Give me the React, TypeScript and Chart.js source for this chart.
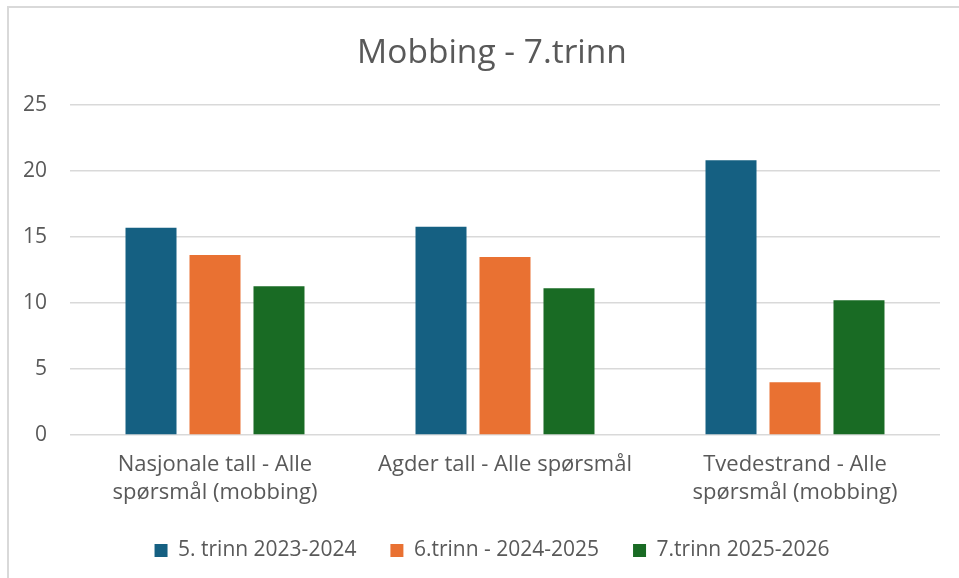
import React, { useEffect, useRef } from "react";
import { Chart, registerables } from "chart.js";

Chart.register(...registerables);

const categories: string[][] = [
  ["Nasjonale tall - Alle", "spørsmål (mobbing)"],
  ["Agder tall - Alle spørsmål"],
  ["Tvedestrand - Alle", "spørsmål (mobbing)"],
];
const seriesNames = ["5. trinn 2023-2024", "6.trinn - 2024-2025", "7.trinn 2025-2026"];
const trinn5 = [15.7, 15.77, 20.82];
const trinn6 = [13.63, 13.48, 4.0];
const trinn7 = [11.26, 11.11, 10.2];
const colors = ["#156082", "#E97132", "#196B24"];
const yTicks = [0, 5, 10, 15, 20, 25];

const FONT = "'Open Sans', Lato, sans-serif";
const TEXT = "#595959";

export default function App() {
  const ref = useRef<HTMLCanvasElement | null>(null);
  useEffect(() => {
    if (!ref.current) return;
    const values = [trinn5, trinn6, trinn7];
    const chart = new Chart(ref.current, {
      type: "bar",
      data: {
        labels: categories,
        datasets: values.map((v, i) => ({
          label: seriesNames[i],
          data: v,
          backgroundColor: colors[i],
          borderWidth: 0,
          categoryPercentage: 0.662,
          barPercentage: 0.797,
        })),
      },
      options: {
        animation: false,
        responsive: true,
        maintainAspectRatio: false,
        layout: { padding: { left: 0, right: 0, top: 0, bottom: 7 } },
        plugins: {
          title: {
            display: true,
            text: "Mobbing - 7.trinn",
            color: TEXT,
            font: { family: FONT, size: 33.5, weight: "normal", lineHeight: 1.2 },
            padding: { top: 33, bottom: 31.8 },
          },
          legend: {
            position: "bottom",
            labels: {
              boxWidth: 13,
              boxHeight: 13,
              padding: 34,
              color: TEXT,
              font: { family: FONT, size: 21, lineHeight: 1.2 },
            },
          },
          tooltip: { enabled: false },
        },
        scales: {
          x: {
            grid: { display: false },
            border: { display: false },
            ticks: {
              color: TEXT,
              padding: 8,
              maxRotation: 0,
              autoSkip: false,
              font: { family: FONT, size: 22, lineHeight: 1.27 },
            },
            afterFit: (s: any) => {
              s.height = 71;
            },
          },
          y: {
            min: 0,
            max: 25,
            afterBuildTicks: (s: any) => {
              s.ticks = yTicks.map((v) => ({ value: v }));
            },
            grid: { color: "#D9D9D9", lineWidth: 1.5, drawTicks: false },
            border: { display: false },
            ticks: {
              color: TEXT,
              padding: 23,
              font: { family: FONT, size: 21 },
            },
            afterFit: (s: any) => {
              s.width = 70;
            },
          },
          spacer: {
            type: "linear",
            position: "right",
            display: true,
            grid: { display: false },
            border: { display: false },
            ticks: { display: false },
            afterFit: (s: any) => {
              s.width = 44;
            },
          },
        },
      },
    });
    return () => chart.destroy();
  }, []);

  return (
    <div style={{ position: "fixed", left: 0, top: 0, width: 959, height: 578, background: "#fff", overflow: "hidden" }}>
      <div
        style={{
          position: "absolute",
          left: 7,
          top: 6,
          right: -10,
          bottom: -10,
          borderTop: "2px solid #D9D9D9",
          borderLeft: "2px solid #D9D9D9",
        }}
      />
      <div style={{ position: "absolute", left: 0, top: 0, width: 984, height: 578 }}>
        <canvas ref={ref} />
      </div>
    </div>
  );
}
